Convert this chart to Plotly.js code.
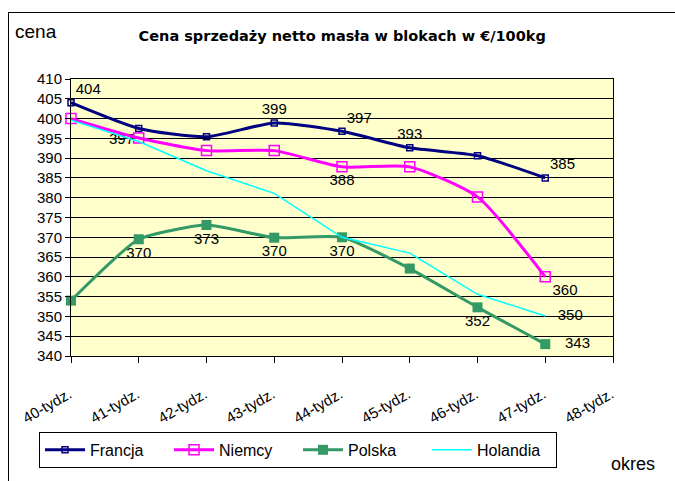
<!DOCTYPE html>
<html>
<head>
<meta charset="utf-8">
<script src="https://cdn.plot.ly/plotly-3.0.1.min.js"></script>
<style>
    html, body { margin: 0; padding: 0; background: #ffffff; }
    #frame { position: absolute; left: 8px; top: 12px; width: 680px; height: 480px;
             border-left: 1px solid #000; border-top: 1px solid #000; pointer-events: none; }
    #chart { width: 675px; height: 481px; }
</style>
</head>
<body>
<div id="chart"></div>
<div id="frame"></div>
<script>
// Dane - cena sprzedaży masła (€/100kg), tygodnie 40-47
const weeks = ['40-tydz.', '41-tydz.', '42-tydz.', '43-tydz.', '44-tydz.', '45-tydz.', '46-tydz.', '47-tydz.', '48-tydz.'];
const weekIdx = [0, 1, 2, 3, 4, 5, 6, 7];

const francja = [404, 397.5, 395.4, 398.9, 396.8, 392.6, 390.6, 385];
const niemcy = [400, 395.1, 391.9, 391.9, 387.8, 387.8, 380.2, 360];
const polska = [354, 369.5, 373.1, 369.9, 370, 362.1, 352.3, 343];
const holandia = [399.6, 394.2, 386.8, 381.1, 370, 366, 355.6, 350.1];

// etykiety danych (puste = brak etykiety)
const francjaLabels = ['404', '397', '', '399', '397', '393', '', '385'];
const niemcyLabels = ['', '', '', '', '388', '', '', '360'];
const polskaLabels = ['', '370', '373', '370', '370', '', '352', '   343'];
const holandiaLabels = ['', '', '', '', '', '', '', '   350'];

const labelFont = { family: 'Liberation Sans, Arial, sans-serif', size: 15, color: '#000' };

const traces = [
    {
        x: weekIdx, y: francja, name: 'Francja',
        mode: 'lines+markers+text',
        text: francjaLabels,
        textposition: ['top right', 'bottom left', 'top center', 'top center', 'top right', 'top center', 'top center', 'top right'],
        textfont: labelFont, cliponaxis: false,
        line: { color: '#000080', width: 3, shape: 'spline', smoothing: 0.6 },
        marker: { symbol: 'square-open', size: 6, color: '#000080', line: { width: 1.5 } }
    },
    {
        x: weekIdx, y: niemcy, name: 'Niemcy',
        mode: 'lines+markers+text',
        text: niemcyLabels,
        textposition: ['top center', 'top center', 'top center', 'top center', 'bottom center', 'top center', 'top center', 'bottom right'],
        textfont: labelFont, cliponaxis: false,
        line: { color: '#FF00FF', width: 3, shape: 'spline', smoothing: 0.6 },
        marker: { symbol: 'square-open', size: 10, color: '#FF00FF', line: { width: 1.5 } }
    },
    {
        x: weekIdx, y: polska, name: 'Polska',
        mode: 'lines+markers+text',
        text: polskaLabels,
        textposition: ['top center', 'bottom center', 'bottom center', 'bottom center', 'bottom center', 'top center', 'bottom center', 'middle right'],
        textfont: labelFont, cliponaxis: false,
        line: { color: '#339966', width: 3, shape: 'spline', smoothing: 0.5 },
        marker: { symbol: 'square', size: 10, color: '#339966' }
    },
    {
        x: weekIdx, y: holandia, name: 'Holandia',
        mode: 'lines+text',
        text: holandiaLabels,
        textposition: 'middle right',
        textfont: labelFont, cliponaxis: false,
        line: { color: '#00FFFF', width: 1.5 }
    }
];

const layout = {
    width: 675,
    height: 481,
    margin: { l: 71, r: 62, t: 79, b: 125 },
    paper_bgcolor: '#ffffff',
    plot_bgcolor: '#FFFFCC',
    font: { family: 'Liberation Sans, Arial, sans-serif', size: 15, color: '#000' },
    showlegend: true,
    title: {
        text: '<b>Cena sprzedaży netto masła w blokach w €/100kg</b>',
        font: { family: 'DejaVu Sans, sans-serif', size: 14.5, color: '#000' },
        xref: 'container', x: 0.507, xanchor: 'center',
        yref: 'container', y: 0.925, yanchor: 'middle'
    },
    xaxis: {
        range: [0, 8],
        tickvals: [0, 1, 2, 3, 4, 5, 6, 7, 8],
        ticktext: weeks,
        tickangle: -30,
        ticks: 'outside', ticklen: 6, tickcolor: '#000',
        ticklabelstandoff: 17,
        ticklabelshift: -2,
        showgrid: false, zeroline: false,
        showline: true, linecolor: '#000', linewidth: 1, mirror: true,
        tickfont: { size: 15 },
        fixedrange: true
    },
    yaxis: {
        range: [340, 410],
        dtick: 5,
        ticks: 'outside', ticklen: 5, tickcolor: '#000',
        showgrid: true, gridcolor: '#000', gridwidth: 1,
        zeroline: false,
        showline: true, linecolor: '#000', linewidth: 1, mirror: true,
        tickfont: { size: 15 },
        fixedrange: true
    },
    legend: {
        orientation: 'h',
        x: -0.059, xanchor: 'left',
        y: -0.274, yanchor: 'top',
        bordercolor: '#000', borderwidth: 1,
        bgcolor: '#ffffff',
        font: { size: 16 },
        itemwidth: 40,
        entrywidth: 74
    },
    annotations: [
        { text: 'cena', xref: 'paper', yref: 'paper', x: -0.107, y: 1.173, xanchor: 'left', yanchor: 'middle',
          showarrow: false, font: { size: 19 } },
        { text: 'okres', xref: 'paper', yref: 'paper', x: 1.037, y: -0.39, xanchor: 'center', yanchor: 'middle',
          showarrow: false, font: { size: 18 } }
    ]
};

Plotly.newPlot('chart', traces, layout, { displayModeBar: false, staticPlot: true });
</script>
</body>
</html>
